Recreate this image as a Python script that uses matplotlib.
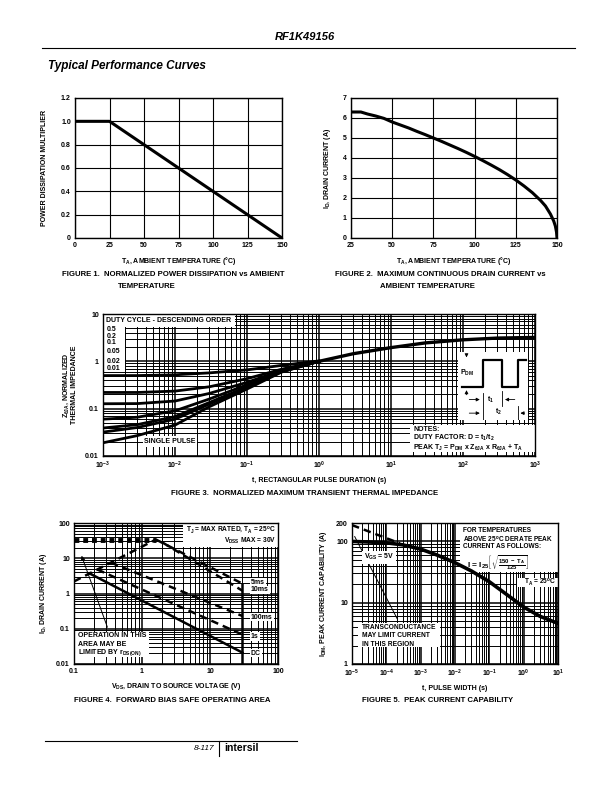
import matplotlib
matplotlib.use('Agg')
import matplotlib.pyplot as plt
from matplotlib.patches import Rectangle
from matplotlib.ticker import LogLocator, NullFormatter, FixedLocator, FixedFormatter

plt.rcParams['font.family'] = ['Liberation Sans', 'DejaVu Sans']
plt.rcParams['font.weight'] = 'bold'
plt.rcParams['mathtext.fontset'] = 'custom'
plt.rcParams['mathtext.rm'] = 'Liberation Sans:bold'
plt.rcParams['mathtext.it'] = 'Liberation Sans:bold'
plt.rcParams['mathtext.bf'] = 'Liberation Sans:bold'
plt.rcParams['mathtext.sf'] = 'Liberation Sans:bold'
plt.rcParams['axes.linewidth'] = 1.0

# ---- data ----
# Figure 1: power dissipation derating
f1_temp = [0, 25, 150]
f1_mult = [1.0, 1.0, 0.0]

# Figure 2: max continuous drain current
f2_temp = [25, 31, 35, 40, 45, 50, 55, 60, 65, 70, 75, 80, 85, 90, 95, 100, 105, 110,
           115, 120, 125, 130, 135, 140, 143, 146, 148, 149, 149.7, 150]
f2_id = [6.3, 6.3, 6.2, 6.1, 5.98, 5.8, 5.65, 5.5, 5.33, 5.17, 5.0, 4.83, 4.65, 4.47,
         4.28, 4.08, 3.87, 3.65, 3.42, 3.17, 2.9, 2.6, 2.27, 1.88, 1.6, 1.2, 0.85, 0.6,
         0.3, 0.0]

# Figure 3: transient thermal impedance
f3_t = [1e-3, 3e-3, 1e-2, 3e-2, 1e-1, 3e-1, 1]
z_d05 = [0.50, 0.50, 0.52, 0.57, 0.66, 0.82, 1.02]
z_d02 = [0.22, 0.22, 0.235, 0.29, 0.43, 0.68, 1.0]
z_d01 = [0.127, 0.128, 0.145, 0.21, 0.36, 0.64, 1.0]
z_d005 = [0.06, 0.066, 0.09, 0.16, 0.32, 0.62, 1.0]
z_d002 = [0.039, 0.046, 0.068, 0.135, 0.29, 0.61, 1.0]
z_d001 = [0.032, 0.040, 0.06, 0.125, 0.28, 0.60, 1.0]
z_single = [0.019, 0.027, 0.045, 0.11, 0.26, 0.59, 1.0]
f3_tail_t = [1, 3, 10, 30, 100, 300, 1000]
f3_tail_z = [1.0, 1.45, 1.95, 2.45, 2.85, 3.1, 3.2]
duty_labels = ['0.5', '0.2', '0.1', '0.05', '0.02', '0.01']

# Figure 4: forward bias SOA
rds_v, rds_i = [0.1, 1.6], [2.2, 34]
ilim_v, ilim_i = [0.1, 1.6], [34, 34]
soa_5ms_v, soa_5ms_i = [1.6, 30], [34, 1.9]
soa_10ms_v, soa_10ms_i = [2.0, 30], [28, 1.2]
soa_100ms_v, soa_100ms_i = [0.35, 30], [7.5, 0.23]
soa_1s_v, soa_1s_i = [0.22, 30], [4.8, 0.068]
soa_dc_v, soa_dc_i = [0.17, 30], [3.7, 0.021]
vdss_v, vdss_i = [30, 30], [0.01, 1.9]
soa_labels = ['5ms', '10ms', '100ms', '1s', 'DC']
soa_label_i = [2.1, 1.26, 0.215, 0.06, 0.0205]

# Figure 5: peak current capability
f5_t = [1e-5, 3e-5, 1e-4, 3e-4, 1e-3, 3e-3, 1e-2, 3e-2, 0.1, 0.3, 1, 3, 10]
f5_i = [100, 98, 95, 88, 75, 60, 45, 33, 22, 14, 8.5, 6, 4.6]
f5_vgs_t = [1e-5, 2.5e-4]
f5_vgs_i = [185, 93]
f5_gm_t = [1.2e-5, 2.1e-4]
f5_gm_i = [120, 5.4]

W, H = 612, 792
fig = plt.figure(figsize=(W / 100, H / 100), dpi=100)


def px_axes(x0, y0, x1, y1):
    return fig.add_axes([x0 / W, 1 - y1 / H, (x1 - x0) / W, (y1 - y0) / H])


def ptext(x, y, s, **kw):
    kw.setdefault('fontsize', 6)
    kw.setdefault('fontweight', 'bold')
    return fig.text(x / W, 1 - y / H, s, **kw)


def white_box(ax, x0, y0, x1, y1):
    ax.add_patch(Rectangle((x0, y0), x1 - x0, y1 - y0, transform=ax.transAxes,
                           facecolor='white', edgecolor='none', zorder=1.5))


def atext(ax, x, y, s, size=5, **kw):
    return ax.text(x, y, s, transform=ax.transAxes, fontsize=size, fontweight='bold',
                   va='center', zorder=4, **kw)


def style(ax):
    ax.tick_params(which='both', length=0, labelsize=5, pad=3)
    ax.set_axisbelow(True)
    for s in ax.spines.values():
        s.set_linewidth(1.0)


def log_grid(ax):
    ax.grid(which='major', color='black', lw=1.1)
    ax.grid(which='minor', color='black', lw=0.7)
    ax.xaxis.set_minor_formatter(NullFormatter())
    ax.yaxis.set_minor_formatter(NullFormatter())


# ---- page header ----
ptext(305, 37, 'RF1K49156', fontsize=8, fontstyle='italic', ha='center', va='center')
fig.add_artist(plt.Line2D([42 / W, 575 / W], [1 - 48 / H, 1 - 48 / H], color='black', lw=0.8))
ptext(48, 66, 'Typical Performance Curves', fontsize=8.5, fontstyle='italic', va='center')

# ---- Figure 1 ----
ax1 = px_axes(75, 98, 282, 238)
ax1.plot(f1_temp, f1_mult, color='black', lw=2.2, zorder=3)
ax1.set_xlim(0, 150)
ax1.set_ylim(0, 1.2)
ax1.set_xticks([0, 25, 50, 75, 100, 125, 150])
ax1.set_yticks([0, 0.2, 0.4, 0.6, 0.8, 1.0, 1.2])
ax1.set_yticklabels(['0', '0.2', '0.4', '0.6', '0.8', '1.0', '1.2'])
ax1.grid(color='black', lw=0.8)
style(ax1)
ax1.set_xlabel('T$_A$, AMBIENT TEMPERATURE (°C)', fontsize=5, fontweight='bold', labelpad=4)
ax1.set_ylabel('POWER DISSIPATION MULTIPLIER', fontsize=5, fontweight='bold', labelpad=9)
ptext(62, 275, 'FIGURE 1.  NORMALIZED POWER DISSIPATION vs AMBIENT', fontsize=5.6, va='center')
ptext(118, 287, 'TEMPERATURE', fontsize=5.6, va='center')

# ---- Figure 2 ----
ax2 = px_axes(351, 98, 557, 238)
ax2.plot(f2_temp, f2_id, color='black', lw=2.2, zorder=3)
ax2.set_xlim(25, 150)
ax2.set_ylim(0, 7)
ax2.set_xticks([25, 50, 75, 100, 125, 150])
ax2.set_yticks(range(0, 8))
ax2.grid(color='black', lw=0.8)
style(ax2)
ax2.set_xlabel('T$_A$, AMBIENT TEMPERATURE (°C)', fontsize=5, fontweight='bold', labelpad=4)
ax2.set_ylabel('I$_D$, DRAIN CURRENT (A)', fontsize=5, fontweight='bold', labelpad=7)
ptext(335, 275, 'FIGURE 2.  MAXIMUM CONTINUOUS DRAIN CURRENT vs', fontsize=5.6, va='center')
ptext(380, 287, 'AMBIENT TEMPERATURE', fontsize=5.6, va='center')

# ---- Figure 3 ----
ax3 = px_axes(103, 314, 535, 456)
ax3.set_xscale('log')
ax3.set_yscale('log')
for z in [z_d05, z_d02, z_d01, z_d005, z_d002, z_d001, z_single]:
    ax3.plot(f3_t, z, color='black', lw=2.0, zorder=3)
ax3.plot(f3_tail_t, f3_tail_z, color='black', lw=2.4, zorder=3)
ax3.set_xlim(1e-3, 1e3)
ax3.set_ylim(0.01, 10)
ax3.xaxis.set_major_locator(LogLocator(base=10, numticks=10))
ax3.xaxis.set_minor_locator(LogLocator(base=10, subs=range(2, 10), numticks=20))
ax3.yaxis.set_major_locator(FixedLocator([0.01, 0.1, 1, 10]))
ax3.yaxis.set_major_formatter(FixedFormatter(['0.01', '0.1', '1', '10']))
ax3.yaxis.set_minor_locator(LogLocator(base=10, subs=range(2, 10), numticks=20))
log_grid(ax3)
style(ax3)
ax3.set_xlabel('t, RECTANGULAR PULSE DURATION (s)', fontsize=5, fontweight='bold', labelpad=4)
ax3.set_ylabel('Z$_{θJA}$, NORMALIZED\nTHERMAL IMPEDANCE', fontsize=5, fontweight='bold',
               labelpad=5, linespacing=1.1)
white_box(ax3, 0, 0.606, 0.051, 1.0)
white_box(ax3, 0, 0.908, 0.306, 1.0)
white_box(ax3, 0.711, 0.028, 1.0, 0.218)
white_box(ax3, 0.093, 0.063, 0.218, 0.141)
atext(ax3, 0.008, 0.955, 'DUTY CYCLE - DESCENDING ORDER')
for lab, yy in zip(duty_labels, [0.89, 0.843, 0.796, 0.735, 0.665, 0.618]):
    atext(ax3, 0.008, yy, lab)
atext(ax3, 0.155, 0.102, 'SINGLE PULSE', ha='center')
atext(ax3, 0.718, 0.19, 'NOTES:')
atext(ax3, 0.718, 0.125, 'DUTY FACTOR: D = t$_1$/t$_2$')
atext(ax3, 0.718, 0.06, 'PEAK T$_J$ = P$_{DM}$ x Z$_{θJA}$ x R$_{θJA}$ + T$_A$')

# pulse sketch inset
ins = ax3.inset_axes([0.822, 0.254, 0.162, 0.478])
ins.set_xlim(0, 1)
ins.set_ylim(0, 1)
ins.set_xticks([])
ins.set_yticks([])
for s in ins.spines.values():
    s.set_visible(False)
ins.set_zorder(5)
wave_x = [0.05, 0.35, 0.35, 0.63, 0.63, 0.85, 0.85, 0.97]
wave_y = [0.48, 0.48, 0.88, 0.88, 0.48, 0.48, 0.88, 0.88]
ins.plot(wave_x, wave_y, color='black', lw=1.6)
arrow = dict(arrowstyle='-|>', lw=0.6, color='black', mutation_scale=5)
ins.annotate('', xy=(0.12, 0.88), xytext=(0.12, 1.0), arrowprops=arrow)
ins.annotate('', xy=(0.12, 0.48), xytext=(0.12, 0.33), arrowprops=arrow)
ins.text(0.03, 0.7, 'P$_{DM}$', fontsize=5, fontweight='bold', va='center')
ins.plot([0.35, 0.35], [0.0, 0.4], color='black', lw=0.6)
ins.plot([0.63, 0.63], [0.2, 0.42], color='black', lw=0.6)
ins.plot([0.85, 0.85], [0.0, 0.2], color='black', lw=0.6)
ins.annotate('', xy=(0.35, 0.3), xytext=(0.12, 0.3), arrowprops=arrow)
ins.annotate('', xy=(0.63, 0.3), xytext=(0.85, 0.3), arrowprops=arrow)
ins.text(0.47, 0.3, 't$_1$', fontsize=5, fontweight='bold', va='center', ha='center')
ins.annotate('', xy=(0.35, 0.1), xytext=(0.12, 0.1), arrowprops=arrow)
ins.annotate('', xy=(0.85, 0.1), xytext=(0.99, 0.1), arrowprops=arrow)
ins.text(0.57, 0.12, 't$_2$', fontsize=5, fontweight='bold', va='center', ha='center')
ptext(305, 493, 'FIGURE 3.  NORMALIZED MAXIMUM TRANSIENT THERMAL IMPEDANCE', fontsize=5.6,
      ha='center', va='center')

# ---- Figure 4 ----
ax4 = px_axes(74, 523, 278, 664)
ax4.set_xscale('log')
ax4.set_yscale('log')
ax4.plot(ilim_v, ilim_i, color='black', lw=3.5, ls=(0, (1, 0.8)), zorder=3)
ax4.plot(rds_v, rds_i, color='black', lw=1.8, ls=(0, (3, 2)), zorder=3)
for vv, ii in [(soa_5ms_v, soa_5ms_i), (soa_10ms_v, soa_10ms_i),
               (soa_100ms_v, soa_100ms_i), (soa_1s_v, soa_1s_i)]:
    ax4.plot(vv, ii, color='black', lw=1.8, ls=(0, (3, 2)), zorder=3)
ax4.plot(soa_dc_v, soa_dc_i, color='black', lw=1.8, zorder=3)
ax4.plot(vdss_v, vdss_i, color='black', lw=1.8, zorder=3)
ax4.set_xlim(0.1, 100)
ax4.set_ylim(0.01, 100)
ax4.xaxis.set_major_locator(FixedLocator([0.1, 1, 10, 100]))
ax4.xaxis.set_major_formatter(FixedFormatter(['0.1', '1', '10', '100']))
ax4.xaxis.set_minor_locator(LogLocator(base=10, subs=range(2, 10), numticks=20))
ax4.yaxis.set_major_locator(FixedLocator([0.01, 0.1, 1, 10, 100]))
ax4.yaxis.set_major_formatter(FixedFormatter(['0.01', '0.1', '1', '10', '100']))
ax4.yaxis.set_minor_locator(LogLocator(base=10, subs=range(2, 10), numticks=20))
log_grid(ax4)
style(ax4)
ax4.set_xlabel('V$_{DS}$, DRAIN TO SOURCE VOLTAGE (V)', fontsize=5, fontweight='bold', labelpad=4)
ax4.set_ylabel('I$_D$, DRAIN CURRENT (A)', fontsize=5, fontweight='bold', labelpad=5)
white_box(ax4, 0.534, 0.83, 1.0, 1.0)
white_box(ax4, 0.0, 0.05, 0.37, 0.227)
atext(ax4, 0.99, 0.95, 'T$_J$ = MAX RATED, T$_A$ = 25$^o$C', size=4.8, ha='right')
atext(ax4, 0.99, 0.875, 'V$_{DSS}$ MAX = 30V', size=4.8, ha='right')
atext(ax4, 0.02, 0.2, 'OPERATION IN THIS')
atext(ax4, 0.02, 0.14, 'AREA MAY BE')
atext(ax4, 0.02, 0.08, 'LIMITED BY r$_{DS(ON)}$')
for lab, yv in zip(soa_labels, soa_label_i):
    ax4.text(40, yv, lab, fontsize=5, fontweight='bold', va='center', zorder=4,
             bbox=dict(facecolor='white', edgecolor='none', pad=0.6))
ax4.annotate('', xy=(0.125, 14), xytext=(0.32, 0.093),
             arrowprops=dict(arrowstyle='-|>', lw=0.7, color='black', mutation_scale=6),
             zorder=4)
ptext(172, 701, 'FIGURE 4.  FORWARD BIAS SAFE OPERATING AREA', fontsize=5.6,
      ha='center', va='center')

# ---- Figure 5 ----
ax5 = px_axes(352, 523, 558, 664)
ax5.set_xscale('log')
ax5.set_yscale('log')
ax5.plot(f5_t, f5_i, color='black', lw=2.6, zorder=3)
ax5.plot(f5_vgs_t, f5_vgs_i, color='black', lw=1.8, ls=(0, (3, 2)), zorder=3)
ax5.plot(f5_gm_t, f5_gm_i, color='black', lw=0.7, zorder=3)
ax5.set_xlim(1e-5, 10)
ax5.set_ylim(1, 200)
ax5.xaxis.set_major_locator(LogLocator(base=10, numticks=10))
ax5.xaxis.set_minor_locator(LogLocator(base=10, subs=range(2, 10), numticks=20))
ax5.yaxis.set_major_locator(FixedLocator([1, 10, 100, 200]))
ax5.yaxis.set_major_formatter(FixedFormatter(['1', '10', '100', '200']))
ax5.yaxis.set_minor_locator(LogLocator(base=10, subs=range(2, 10), numticks=20))
log_grid(ax5)
style(ax5)
ax5.set_xlabel('t, PULSE WIDTH (s)', fontsize=5, fontweight='bold', labelpad=4)
ax5.set_ylabel('I$_{DM}$, PEAK CURRENT CAPABILITY (A)', fontsize=5, fontweight='bold', labelpad=5)
white_box(ax5, 0.524, 0.652, 1.0, 1.0)
white_box(ax5, 0.03, 0.12, 0.427, 0.29)
white_box(ax5, 0.8, 0.545, 1.0, 0.61)
atext(ax5, 0.54, 0.95, 'FOR TEMPERATURES', size=4.7)
atext(ax5, 0.54, 0.89, 'ABOVE 25$^o$C DERATE PEAK', size=4.7)
atext(ax5, 0.54, 0.83, 'CURRENT AS FOLLOWS:', size=4.7)
atext(ax5, 0.56, 0.715, r'I = I$_{25}\left[\sqrt{\frac{150\ -\ T_A}{125}}\right]$', size=6)
atext(ax5, 0.99, 0.577, 'T$_A$ = 25$^o$C', size=4.8, ha='right')
ax5.text(2.2e-5, 55, 'V$_{GS}$ = 5V', fontsize=5, fontweight='bold', va='center', zorder=4,
         bbox=dict(facecolor='white', edgecolor='none', pad=1))
atext(ax5, 0.05, 0.26, 'TRANSCONDUCTANCE', size=4.8)
atext(ax5, 0.05, 0.2, 'MAY LIMIT CURRENT', size=4.8)
atext(ax5, 0.05, 0.14, 'IN THIS REGION', size=4.8)
ptext(438, 701, 'FIGURE 5.  PEAK CURRENT CAPABILITY', fontsize=5.6, ha='center', va='center')

# ---- footer ----
fig.add_artist(plt.Line2D([45 / W, 297 / W], [1 - 741 / H, 1 - 741 / H], color='black', lw=0.8))
fig.add_artist(plt.Line2D([219 / W, 219 / W], [1 - 741 / H, 1 - 756 / H], color='black', lw=0.8))
ptext(214, 748, '8-117', fontsize=6, fontweight='normal', fontstyle='italic', ha='right', va='center')
ptext(224, 748, 'intersil', fontsize=7.5, fontweight='bold', va='center')

fig.savefig('out.png', dpi=100)
